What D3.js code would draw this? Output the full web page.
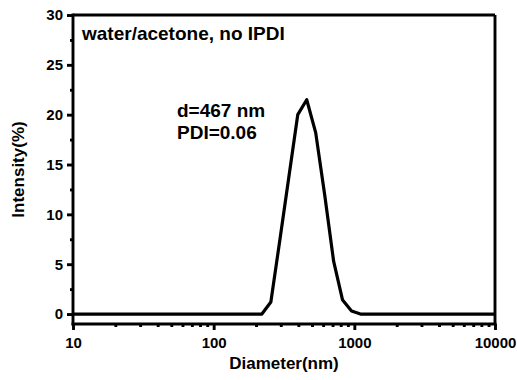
<!DOCTYPE html>
<html>
<head>
<meta charset="utf-8">
<script src="https://cdn.jsdelivr.net/npm/d3@7"></script>
<style>
  html, body { margin: 0; padding: 0; background: #fff; }
  svg { display: block; }
  text { font-family: "Liberation Sans", Arial, sans-serif; font-weight: bold; fill: #000; }
</style>
</head>
<body>
<svg id="chart" width="517" height="380"></svg>
<script>
// ---- data ----
const diameters = [10, 190.1, 220.2, 255.0, 295.3, 342.0, 396.1, 458.7, 531.2, 615.1, 712.4, 825.0, 955.4, 1106, 1281, 10000];
const intensity = [0, 0, 0, 1.2, 7.4, 13.7, 20.0, 21.5, 18.2, 12.0, 5.3, 1.4, 0.3, 0, 0, 0];
const xTicks = [10, 100, 1000, 10000];
const yTicks = [0, 5, 10, 15, 20, 25, 30];
const yMinorTicks = [2.5, 7.5, 12.5, 17.5, 22.5, 27.5];
const xMinorTicks = [20,30,40,50,60,70,80,90,200,300,400,500,600,700,800,900,2000,3000,4000,5000,6000,7000,8000,9000];
const labelText = "water/acetone, no IPDI";
const annotation = ["d=467 nm", "PDI=0.06"];
const xTitle = "Diameter(nm)";
const yTitle = "Intensity(%)";

(function () {
// ---- layout ----
const svg = d3.select("#chart");
const mL = 73, mR = 495, mT = 15, mB = 324;
const x = d3.scaleLog().domain([10, 10000]).range([mL, mR]);
const y = d3.scaleLinear().domain([-1, 30]).range([mB, mT]);

const axisW = 2.9;
const fontFam = "'Liberation Sans', Arial, sans-serif";

// frame (top & right)
svg.append("line").attr("x1", mL).attr("x2", mR).attr("y1", y(30)).attr("y2", y(30))
  .attr("stroke", "#000").attr("stroke-width", axisW);
svg.append("line").attr("x1", mR).attr("x2", mR).attr("y1", y(30)).attr("y2", mB)
  .attr("stroke", "#000").attr("stroke-width", axisW);

// y axis
const yAxis = d3.axisLeft(y).tickValues(yTicks).tickSize(6).tickSizeOuter(0).tickPadding(4).tickFormat(d3.format("d"));
const gy = svg.append("g").attr("transform", `translate(${mL},0)`).call(yAxis);
gy.select(".domain").attr("stroke-width", axisW).attr("d", `M0,${mT - axisW/2}V${mB + axisW/2}`);
gy.selectAll(".tick line").attr("stroke-width", axisW);
gy.selectAll(".tick text").style("font-size", "15px").style("font-family", fontFam).style("font-weight", "bold");
const gyMinor = svg.append("g").attr("transform", `translate(${mL},0)`)
  .call(d3.axisLeft(y).tickValues(yMinorTicks).tickSize(3).tickFormat(""));
gyMinor.select(".domain").remove();
gyMinor.selectAll(".tick line").attr("stroke-width", axisW);

// x axis
const xAxis = d3.axisBottom(x).tickValues(xTicks).tickSize(6).tickSizeOuter(0).tickPadding(7).tickFormat(d3.format("d"));
const gx = svg.append("g").attr("transform", `translate(0,${mB})`).call(xAxis);
gx.select(".domain").attr("stroke-width", axisW).attr("d", `M${mL - axisW/2},0H${mR + axisW/2}`);
gx.selectAll(".tick line").attr("stroke-width", axisW);
gx.selectAll(".tick text").style("font-size", "15px").style("font-family", fontFam).style("font-weight", "bold");
const gxMinor = svg.append("g").attr("transform", `translate(0,${mB})`)
  .call(d3.axisBottom(x).tickValues(xMinorTicks).tickSize(3).tickFormat(""));
gxMinor.select(".domain").remove();
gxMinor.selectAll(".tick line").attr("stroke-width", axisW);

// data line
const line = d3.line().x((d, i) => x(diameters[i])).y(d => y(d));
svg.append("path").datum(intensity).attr("d", line)
  .attr("fill", "none").attr("stroke", "#000").attr("stroke-width", 3.2)
  .attr("stroke-linejoin", "round");

// text
svg.append("text").attr("x", 82).attr("y", 40).style("font-size", "19px").text(labelText);
svg.append("text").attr("x", 177).attr("y", 117).style("font-size", "19px").text(annotation[0]);
svg.append("text").attr("x", 177).attr("y", 139).style("font-size", "19px").text(annotation[1]);

svg.append("text").attr("x", (mL + mR) / 2).attr("y", 369).attr("text-anchor", "middle")
  .style("font-size", "17px").text(xTitle);
svg.append("text").attr("transform", `translate(24,${(mT + mB) / 2}) rotate(-90)`).attr("text-anchor", "middle")
  .style("font-size", "17px").text(yTitle);
})();
</script>
</body>
</html>
